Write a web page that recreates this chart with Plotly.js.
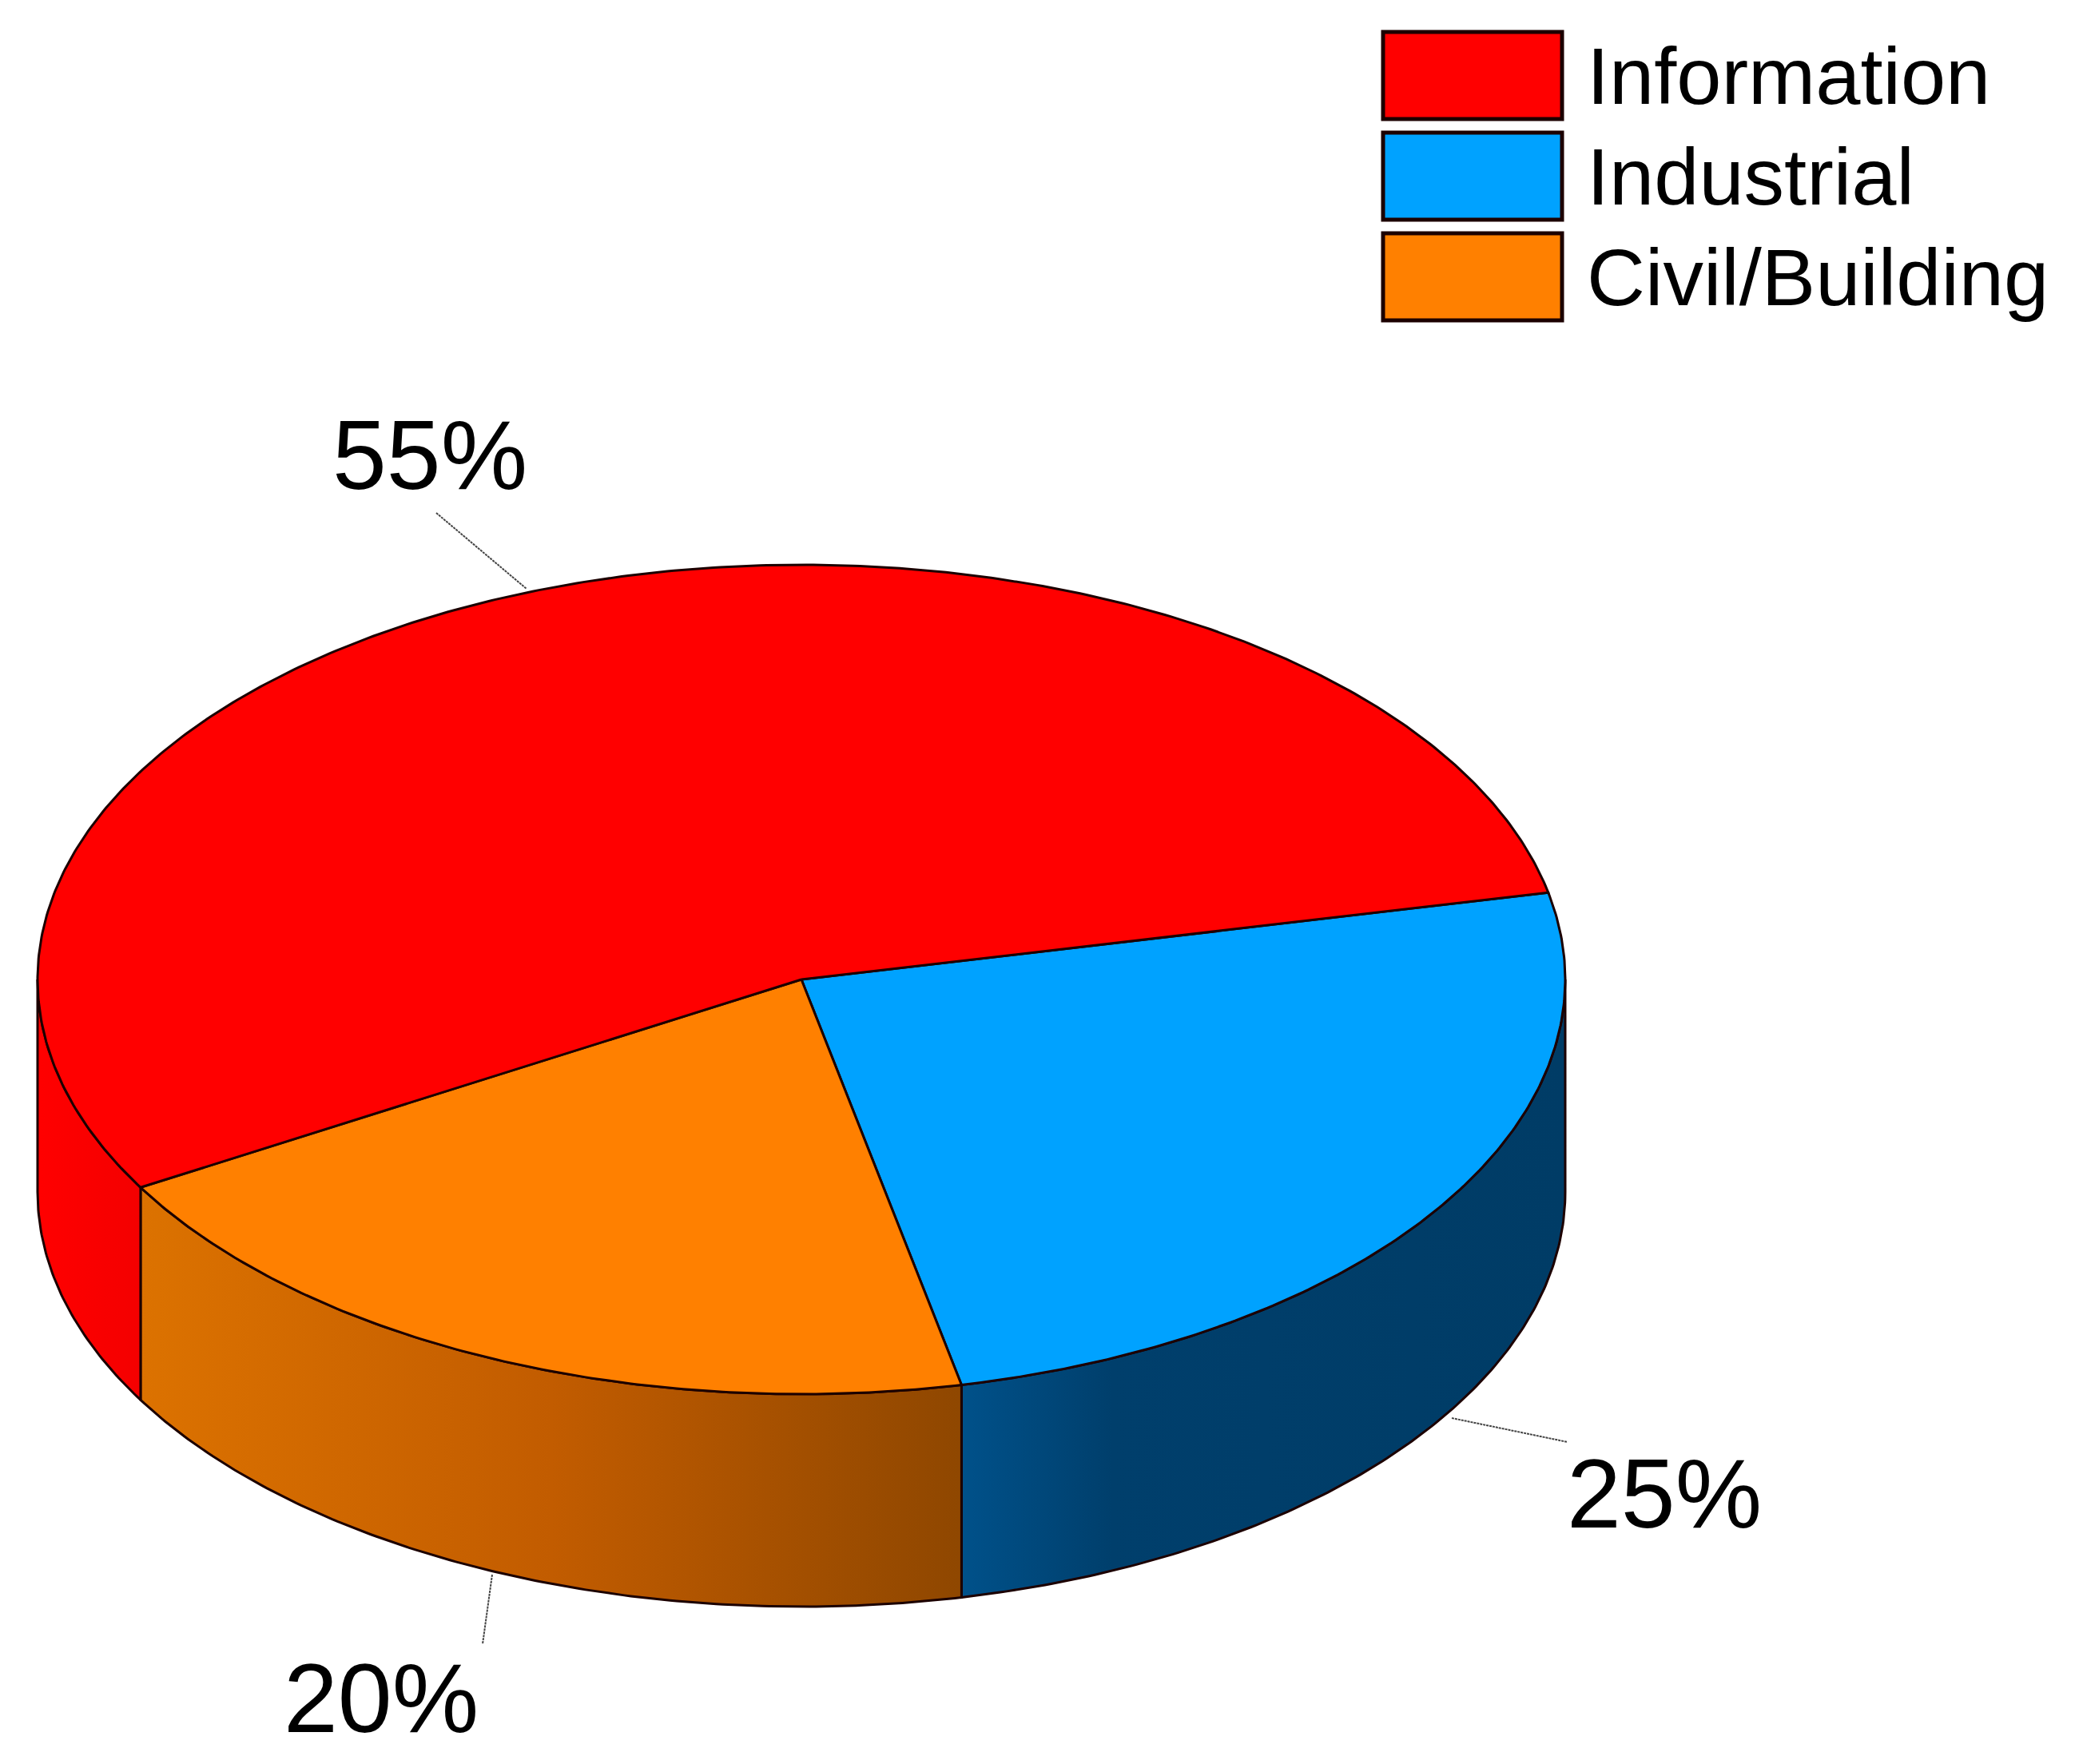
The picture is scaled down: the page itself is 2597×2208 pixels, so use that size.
<!DOCTYPE html>
<html>
<head>
<meta charset="utf-8">
<script src="https://cdn.plot.ly/plotly-3.0.1.min.js"></script>
<style>body { margin: 0; background: #fff; }</style>
</head>
<body>
<div id="chart" style="width:2597px;height:2208px"></div>
<script>
// shares, in the order they go clockwise from the start angle
var categories = ['Industrial', 'Civil/Building', 'Information'];
var shares = [25, 20, 55];
var top_colors = ['#00a2ff', '#ff8000', '#ff0000'];
var legend_order = ['Information', 'Industrial', 'Civil/Building'];

// the fake 3d disc, axes run in page pixels
var cx = 1003, cy = 1226, rx = 956, ry = 519, depth = 266;
var start_angle = 12.1;
var edge = '#1c0000';
var font_name = '"Liberation Sans", Arial, sans-serif';

function arc(a1, a2, dy) {
    var xs = [], ys = [];
    var steps = Math.max(2, Math.ceil(Math.abs(a2 - a1) * 2));
    for (var i = 0; i <= steps; i++) {
        var a = (a1 + (a2 - a1) * i / steps) * Math.PI / 180;
        xs.push(cx + rx * Math.cos(a));
        ys.push(cy - ry * Math.sin(a) + dy);
    }
    return { x: xs, y: ys };
}

var angles = [start_angle];
shares.forEach(function(share, index) {
    angles.push(angles[index] - share * 3.6);
});

var side_fills = [
    { type: 'horizontal', colorscale: [[0, '#00518a'], [0.25, '#003f6c'], [1, '#003c66']] },
    { type: 'horizontal', colorscale: [[0, '#dc7200'], [0.5, '#c25c00'], [1, '#8f4700']] },
    { type: 'horizontal', colorscale: [[0, '#ff0000'], [1, '#f40000']] }
];

var data = [];

// walls first, only the part of each slice that faces the viewer
shares.forEach(function(share, index) {
    var a1 = Math.min(angles[index], 0);
    var a2 = Math.max(angles[index + 1], -180);
    if (a1 <= a2) return;
    var upper = arc(a1, a2, 0);
    var lower = arc(a2, a1, depth);
    data.push({
        x: upper.x.concat(lower.x, [upper.x[0]]),
        y: upper.y.concat(lower.y, [upper.y[0]]),
        type: 'scatter',
        mode: 'lines',
        fill: 'toself',
        fillgradient: side_fills[index],
        line: { color: edge, width: 3 },
        hoverinfo: 'skip',
        showlegend: false
    });
});

// top face of the slices
shares.forEach(function(share, index) {
    var rim = arc(angles[index], angles[index + 1], 0);
    data.push({
        x: [cx].concat(rim.x, [cx]),
        y: [cy].concat(rim.y, [cy]),
        type: 'scatter',
        mode: 'lines',
        fill: 'toself',
        fillcolor: top_colors[index],
        line: { color: edge, width: 3 },
        name: categories[index],
        hoverinfo: 'name',
        showlegend: false
    });
});

// leader lines from the percent labels to the disc
var leaders = [
    { x: [1817, 1962], y: [1775, 1805] },
    { x: [616, 604], y: [1971, 2058] },
    { x: [546, 659], y: [642, 737] }
];
leaders.forEach(function(leader) {
    data.push({
        x: leader.x,
        y: leader.y,
        type: 'scatter',
        mode: 'lines',
        line: { color: '#444444', width: 2, dash: '3px,1px' },
        hoverinfo: 'skip',
        showlegend: false
    });
});

var label_spots = [[2083, 1870], [477, 2126], [538, 570]];
var annotations = shares.map(function(share, index) {
    return {
        x: label_spots[index][0],
        y: label_spots[index][1],
        xref: 'x',
        yref: 'y',
        text: share + '%',
        showarrow: false,
        xanchor: 'center',
        yanchor: 'middle',
        font: { family: font_name, size: 122, color: '#000000' }
    };
});

// hand made legend, plotly's own swatches can't get this big
var swatch_tops = [40, 166, 292];
var shapes = [];
legend_order.forEach(function(name, index) {
    var top = swatch_tops[index];
    shapes.push({
        type: 'rect',
        xref: 'x',
        yref: 'y',
        x0: 1731,
        x1: 1955,
        y0: top,
        y1: top + 109,
        fillcolor: top_colors[categories.indexOf(name)],
        line: { color: edge, width: 5 }
    });
    annotations.push({
        x: 1984,
        y: top + 55,
        xref: 'x',
        yref: 'y',
        text: name,
        showarrow: false,
        xanchor: 'left',
        yanchor: 'middle',
        font: { family: font_name, size: 101, color: '#000000' }
    });
});

var layout = {
    autosize: false,
    width: 2597,
    height: 2208,
    margin: { l: 0, r: 0, t: 0, b: 0 },
    paper_bgcolor: '#ffffff',
    plot_bgcolor: '#ffffff',
    showlegend: false,
    xaxis: { range: [0, 2597], visible: false, fixedrange: true },
    yaxis: { range: [2208, 0], visible: false, fixedrange: true },
    annotations: annotations,
    shapes: shapes
};

Plotly.newPlot('chart', data, layout, { displayModeBar: false });
</script>
</body>
</html>
